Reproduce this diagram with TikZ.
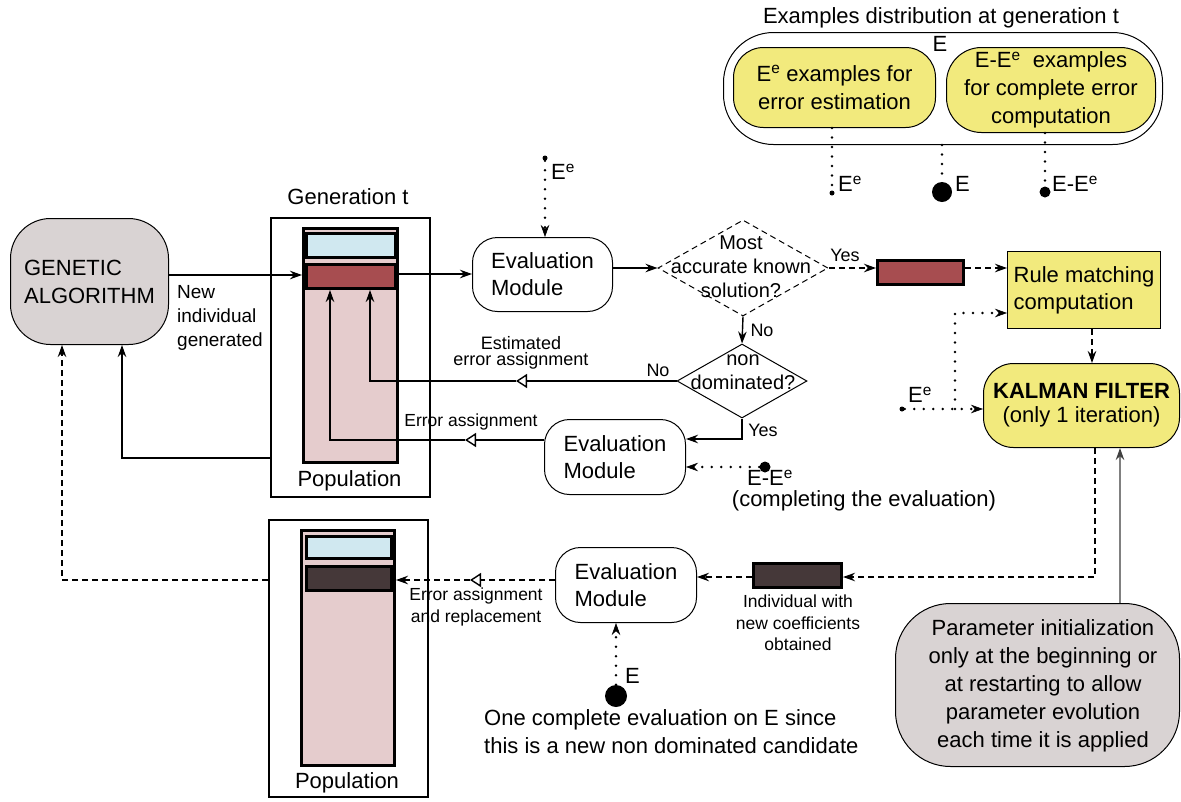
\documentclass[tikz,border=0pt]{standalone}
\usepackage{fontspec}
\setmainfont{Liberation Sans}
\usetikzlibrary{arrows.meta,shapes.geometric}
\definecolor{gagray}{RGB}{217,211,211}
\definecolor{ylw}{RGB}{242,234,125}
\definecolor{pnk}{RGB}{229,204,205}
\definecolor{lblue}{RGB}{208,232,240}
\definecolor{redbar}{RGB}{167,77,80}
\definecolor{darkbar}{RGB}{69,56,57}
\begin{document}
\begin{tikzpicture}[x=1pt,y=-1pt,
  f22/.style={font=\fontsize{22}{27}\selectfont},
  f22w/.style={font=\fontsize{22}{28}\selectfont},
  f20/.style={font=\fontsize{20}{24}\selectfont},
  f19/.style={font=\fontsize{19}{24}\selectfont},
  f18/.style={font=\fontsize{18}{16.5}\selectfont},
  f17/.style={font=\fontsize{17.5}{21.5}\selectfont},
  lbl/.style={inner sep=0pt},
  rbox/.style={draw, line width=1pt, inner sep=0pt},
  bar/.style={draw, line width=3pt, inner sep=0pt},
  con/.style={line width=1.4pt},
  arr/.style={con, -{Stealth[length=12pt,width=8.5pt]}},
  dsh/.style={dash pattern=on 6pt off 4pt},
  dots/.style={line width=2.8pt, line cap=round, dash pattern=on 0pt off 9.5pt},
  dotarr/.style={dots, -{Stealth[length=12pt,width=8.5pt,line width=0.6pt]}},
  opentri/.style={con, -{Triangle[open,length=11pt,width=14pt]}},
  blob/.style={circle, fill=black, inner sep=0pt},
]
\useasboundingbox (0,0) rectangle (1181,801);

% ---------- nodes ----------
\node[rbox, fill=gagray, rounded corners=40pt, minimum width=158pt, minimum height=126pt, f22w, align=left] (ga) at (89.5,281.5) {GENETIC\\ALGORITHM};
\node[lbl, f19, align=left, anchor=west] (newind) at (177,318) {New\\individual\\generated};

\node[draw, line width=2pt, minimum width=159pt, minimum height=279pt, inner sep=0pt] (gen1) at (350.5,357.5) {};
\node[bar, fill=pnk, minimum width=94pt, minimum height=234pt] (col1) at (350.5,345.5) {};
\node[bar, fill=lblue, minimum width=89pt, minimum height=24pt] (bl1) at (351,245.5) {};
\node[bar, fill=redbar, minimum width=89pt, minimum height=24pt] (rd1) at (351,276.5) {};
\node[lbl, f22] (gent) at (348,197) {Generation t};
\node[lbl, f22] (pop1) at (349.5,481) {Population};

\node[draw, line width=2pt, minimum width=159pt, minimum height=277pt, inner sep=0pt] (gen2) at (348.5,658.5) {};
\node[bar, fill=pnk, minimum width=93pt, minimum height=235pt] (col2) at (348,648) {};
\node[bar, fill=lblue, minimum width=85pt, minimum height=22pt] (bl2) at (349,547.5) {};
\node[bar, fill=darkbar, minimum width=85pt, minimum height=24pt] (dk1) at (349,578.5) {};
\node[lbl, f22] (pop2) at (347,783) {Population};

\node[rbox, rounded corners=25pt, minimum width=140pt, minimum height=74pt, f22, align=left] (ev1) at (542.5,274.5) {Evaluation\\Module};
\node[rbox, rounded corners=25pt, minimum width=141pt, minimum height=75pt, f22, align=left] (ev2) at (615,457) {Evaluation\\Module};
\node[rbox, rounded corners=25pt, minimum width=141pt, minimum height=75pt, f22, align=left] (ev3) at (626,585) {Evaluation\\Module};

\node[draw, line width=1pt, dash pattern=on 6pt off 4pt, diamond, minimum width=170pt, minimum height=96pt, inner sep=0pt] (d1) at (743,268) {};
\node[lbl, f20, align=center] (d1t) at (741,267) {Most\\accurate known\\solution?};
\node[draw, line width=1pt, diamond, minimum width=130pt, minimum height=74pt, inner sep=0pt] (d2) at (742,381) {};
\node[lbl, f20, align=center] (d2t) at (743,372) {non\\dominated?};

\node[bar, fill=redbar, minimum width=86pt, minimum height=24pt] (rd2) at (920.5,272.5) {};
\node[bar, fill=darkbar, minimum width=88pt, minimum height=24pt] (dk2) at (797.5,575.5) {};

\node[draw, line width=1pt, fill=ylw, minimum width=153pt, minimum height=77pt, inner sep=0pt, f22, align=left] (rule) at (1084,290) {Rule matching\\computation};
\node[rbox, fill=ylw, rounded corners=30pt, minimum width=196pt, minimum height=84pt, font=\fontsize{22}{24}\selectfont, align=center] (kf) at (1081.5,405.5) {\textbf{KALMAN FILTER}\\(only 1 iteration)};
\node[rbox, fill=gagray, rounded corners=55pt, minimum width=284pt, minimum height=163pt] (par) at (1037.5,685) {};
\node[lbl, f22w, align=center] (part) at (1043,686) {Parameter initialization\\only at the beginning or\\at restarting to allow\\parameter evolution\\each time it is applied};

\node[rbox, rounded corners=50pt, minimum width=439pt, minimum height=112pt] (ex) at (943,88.5) {};
\node[rbox, fill=ylw, rounded corners=30pt, minimum width=202pt, minimum height=80pt, f22w, align=center] (ey1) at (834.5,87.5) {E\textsuperscript{e} examples for\\error estimation};
\node[rbox, fill=ylw, rounded corners=35pt, minimum width=209pt, minimum height=85pt, f22w, align=center] (ey2) at (1051,90) {E-E\textsuperscript{e}\ \ examples\\for complete error\\computation};
\node[lbl, f22] (extitle) at (941,18) {Examples distribution at generation t};
\node[lbl, f22] (exE) at (940,44) {E};

% ---------- top example dots ----------
\node[blob, minimum size=5pt] (dEe) at (832,193) {};
\node[blob, minimum size=20pt] (dE) at (942,192) {};
\node[blob, minimum size=11pt] (dEEe) at (1045,192) {};
\draw[dots] (ey1.south -| dEe) -- (dEe);
\draw[dots] (ex.south -| dE) -- (dE);
\draw[dots] (ey2.south -| dEEe) -- (dEEe);
\node[lbl, f22, anchor=south west] (lEe) at (838,192) {E\textsuperscript{e}};
\node[lbl, f22, anchor=south west] (lE) at (955,192) {E};
\node[lbl, f22, anchor=south west] (lEEe) at (1052,192) {E-E\textsuperscript{e}};

% ---------- E^e into first evaluation ----------
\node[blob, minimum size=5pt] (dEe2) at (545,158) {};
\draw[dotarr] (dEe2) -- (dEe2 |- ev1.north);
\node[lbl, f22, anchor=south west] (lEe2) at (551,180) {E\textsuperscript{e}};

% ---------- main flow ----------
\coordinate (y275) at (0,275);
\coordinate (y274) at (0,274);
\draw[arr] (ga.east |- y275) -- (col1.west |- y275);
\draw[arr] (col1.east |- y274) -- (ev1.west |- y274);
\draw[arr] (ev1.east |- d1.west) -- (d1.west);
\draw[arr, dsh] (d1.east) -- (rd2.west |- d1.east);
\draw[arr, dsh] (rd2.east |- d1.east) -- (rule.west |- d1.east);
\node[lbl, f18] (yes1) at (845,255) {Yes};

\draw[arr] (d1.south) -- (d2.north);
\node[lbl, f18] (no1) at (762,330) {No};

\coordinate (t1) at (516,381);
\coordinate (b1) at (370,381);
\draw[opentri] (d2.west) -- (t1);
\draw[arr] (t1) -- (b1) -- (b1 |- rd1.south);
\node[lbl, f18, align=center] (estl) at (521,353) {Estimated\\error assignment};
\node[lbl, f18] (no2) at (658,370) {No};

\coordinate (b2) at (742,439);
\draw[arr] (d2.south) -- (b2) -- (ev2.east |- b2);
\node[lbl, f18] (yes2) at (763,430) {Yes};

\coordinate (t2) at (465,440);
\coordinate (b3) at (330,440);
\draw[opentri] (ev2.west |- t2) -- (t2);
\draw[arr] (t2) -- (b3) -- (b3 |- rd1.south);
\node[lbl, f17] (errl) at (471,422) {Error assignment};

\node[blob, minimum size=11pt] (dEEe2) at (765,467) {};
\draw[dotarr] (dEEe2) -- (ev2.east |- dEEe2);
\node[lbl, f22, anchor=south west] (lEEe2) at (747,486) {E-E\textsuperscript{e}};
\node[lbl, f22] (compl) at (864,501) {(completing the evaluation)};

% ---------- returns to GA ----------
\coordinate (b4) at (122,458);
\draw[arr] (gen1.west |- b4) -- (b4) -- (b4 |- ga.south);
\coordinate (b5) at (62,580);
\draw[arr, dsh] (gen2.west |- b5) -- (b5) -- (b5 |- ga.south);

% ---------- lower evaluation ----------
\coordinate (t3) at (470,580);
\draw[opentri, dsh] (ev3.west |- t3) -- (t3);
\draw[arr, dsh] (t3) -- (col2.east |- t3);
\node[lbl, f17, align=center] (repl) at (476,607) {Error assignment\\and replacement};

\node[blob, minimum size=22pt] (dE2) at (616,696) {};
\draw[dotarr] (dE2) -- (dE2 |- ev3.south);
\node[lbl, f22, anchor=south west] (lE2) at (625,684) {E};
\node[lbl, f22w, align=left, anchor=west] (onel) at (484,732) {One complete evaluation on E since\\this is a new non dominated candidate};

\coordinate (b6) at (1095,577);
\draw[arr, dsh] (b6 |- kf.south) -- (b6) -- (dk2.east |- b6);
\draw[arr, dsh] (dk2.west |- b6) -- (ev3.east |- b6);
\node[lbl, f17, align=center] (indl) at (798,623) {Individual with\\new coefficients\\obtained};

% ---------- Kalman filter inputs ----------
\coordinate (x1092) at (1092,0);
\draw[arr, dsh] (x1092 |- rule.south) -- (x1092 |- kf.north);
\coordinate (x1120) at (1120,0);
\draw[con, draw=gray, -{Stealth[length=12pt,width=8.5pt,color=black!75]}] (x1120 |- par.north) -- (x1120 |- kf.south);

\node[blob, minimum size=5pt] (dEe3) at (902,409) {};
\draw[dotarr] (dEe3) -- (kf.west |- dEe3);
\coordinate (b7) at (955,409);
\coordinate (b8) at (955,313);
\draw[dotarr] (b7) -- (b8) -- (rule.west |- b8);
\node[lbl, f22, anchor=south west] (lEe3) at (908,403) {E\textsuperscript{e}};
\end{tikzpicture}
\end{document}
